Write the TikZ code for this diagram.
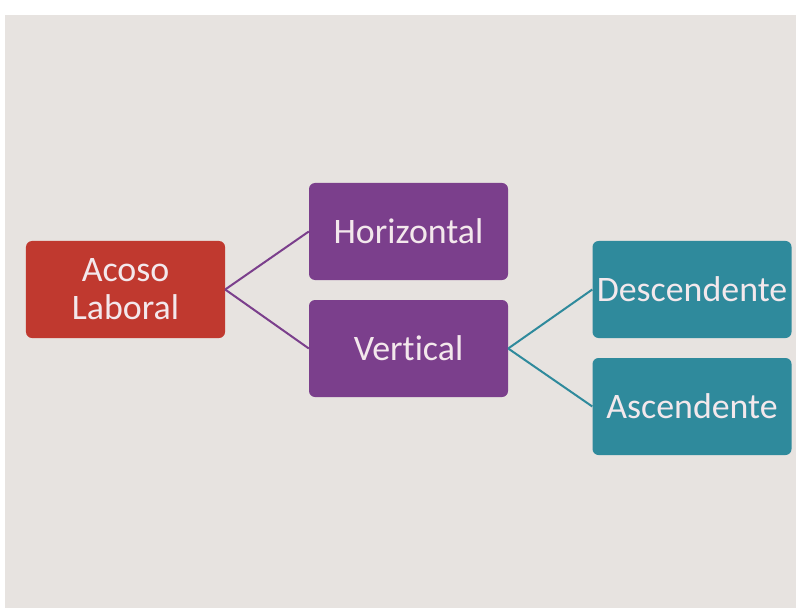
\documentclass[tikz,border=0pt]{standalone}
\usepackage{fontspec}
\setmainfont{Carlito}[Ligatures=NoCommon]
\definecolor{bgGray}{HTML}{E7E3E0}
\definecolor{boxRed}{HTML}{C0392F}
\definecolor{boxPurple}{HTML}{7B3F8C}
\definecolor{boxTeal}{HTML}{2F8A9C}
\definecolor{txtCream}{HTML}{F3E8EC}
\tikzset{
  box/.style={rounded corners=6bp, minimum width=199bp, minimum height=97bp,
    inner sep=0pt, align=center, text=txtCream,
    font=\fontsize{36}{38}\selectfont},
  redbox/.style={box, fill=boxRed},
  purplebox/.style={box, fill=boxPurple},
  tealbox/.style={box, fill=boxTeal},
}
\begin{document}
\begin{tikzpicture}[x=1bp,y=-1bp]
      \useasboundingbox (0,0) rectangle (796,608);
      \fill[white] (0,0) rectangle (796,608);
      \fill[bgGray] (5,15) rectangle (796,608);
      \draw
        (125.5,289.5) node[redbox] (acoso){Acoso\\Laboral}
        (408.5,231.5) node[purplebox] (horiz){Horizontal}
        (408.5,348.5) node[purplebox] (vert){Vertical}
        (692,289.5) node[tealbox] (desc){Descendente}
        (692,406.5) node[tealbox] (asc){Ascendente};
      \begin{scope}[-, line width=2bp]
        \draw[boxPurple] (acoso.east) to (horiz.west);
        \draw[boxPurple] (acoso.east) to (vert.west);
        \draw[boxTeal] (vert.east) to (desc.west);
        \draw[boxTeal] (vert.east) to (asc.west);
      \end{scope}
    \end{tikzpicture}
\end{document}
